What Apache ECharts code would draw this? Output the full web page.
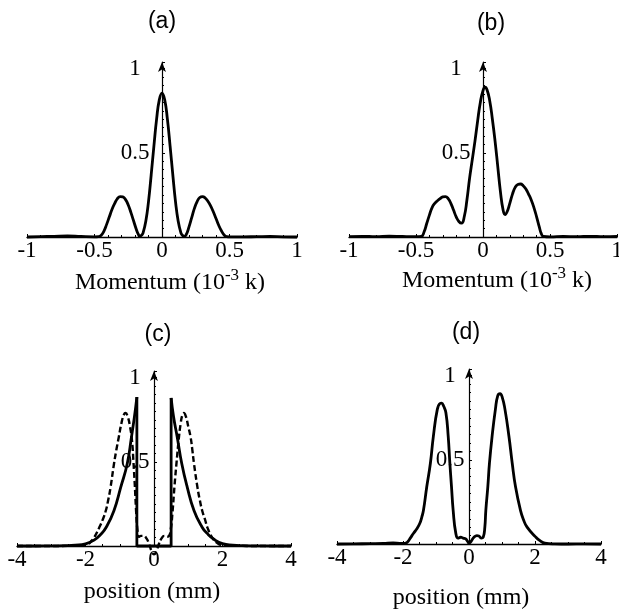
<!DOCTYPE html>
<html>
<head>
<meta charset="utf-8">
<script src="https://cdn.jsdelivr.net/npm/echarts@6/dist/echarts.min.js"></script>
<style>
html,body{margin:0;padding:0;background:#fff;}
#chart{width:619px;height:613px;}
</style>
</head>
<body>
<div id="chart"></div>
<script>
// ---------- data ----------
const panelTitles = ['(a)', '(b)', '(c)', '(d)'];
const momentumTicks = [-1, -0.5, 0, 0.5, 1];
const positionTicks = [-4, -2, 0, 2, 4];
const yTicks = [0.5, 1];

// (a) momentum distribution
const aX = [-1, -0.9, -0.8, -0.7, -0.6, -0.5, -0.47, -0.45, -0.43, -0.41, -0.39, -0.37, -0.35, -0.33, -0.31, -0.29, -0.27, -0.25, -0.23, -0.21, -0.19, -0.175, -0.165, -0.15, -0.14, -0.12, -0.10, -0.08, -0.06, -0.04, -0.02, 0, 0.02, 0.04, 0.06, 0.08, 0.10, 0.12, 0.14, 0.15, 0.165, 0.18, 0.20, 0.22, 0.24, 0.26, 0.28, 0.30, 0.32, 0.34, 0.36, 0.38, 0.40, 0.42, 0.44, 0.46, 0.48, 0.5, 0.6, 0.7, 0.8, 0.9, 1];
const aY = [0, 0.002, 0.004, 0.006, 0.003, 0.001, 0.002, 0.01, 0.035, 0.075, 0.12, 0.165, 0.2, 0.228, 0.24, 0.238, 0.222, 0.19, 0.145, 0.095, 0.045, 0.015, 0.003, 0.012, 0.025, 0.093, 0.21, 0.37, 0.54, 0.7, 0.815, 0.855, 0.815, 0.7, 0.54, 0.37, 0.21, 0.093, 0.025, 0.012, 0.003, 0.015, 0.06, 0.115, 0.17, 0.21, 0.235, 0.24, 0.232, 0.212, 0.185, 0.15, 0.11, 0.07, 0.037, 0.012, 0.002, 0.001, 0.001, 0.002, 0.003, 0.001, 0];

// (b) momentum distribution
const bX = [-1, -0.9, -0.8, -0.7, -0.6, -0.5, -0.46, -0.44, -0.42, -0.40, -0.38, -0.36, -0.34, -0.32, -0.30, -0.28, -0.26, -0.24, -0.22, -0.20, -0.18, -0.16, -0.14, -0.12, -0.10, -0.08, -0.06, -0.04, -0.02, 0, 0.015, 0.03, 0.05, 0.07, 0.09, 0.11, 0.13, 0.15, 0.165, 0.18, 0.20, 0.22, 0.24, 0.26, 0.28, 0.30, 0.32, 0.34, 0.36, 0.38, 0.40, 0.42, 0.435, 0.45, 0.5, 0.6, 0.7, 0.8, 0.9, 1];
const bY = [0.002, 0.004, 0.002, 0.005, 0.003, 0.002, 0.004, 0.03, 0.08, 0.13, 0.175, 0.2, 0.215, 0.228, 0.238, 0.24, 0.228, 0.2, 0.16, 0.12, 0.092, 0.082, 0.12, 0.22, 0.35, 0.46, 0.57, 0.69, 0.8, 0.87, 0.89, 0.875, 0.81, 0.7, 0.57, 0.42, 0.27, 0.16, 0.133, 0.15, 0.2, 0.255, 0.295, 0.312, 0.315, 0.305, 0.285, 0.255, 0.22, 0.175, 0.12, 0.06, 0.02, 0.004, 0.001, 0.003, 0.002, 0.004, 0.002, 0.003];

// (c) solid curve: left flank, central gap, right flank
const cSolidLeftX = [-4, -3.5, -3, -2.6, -2.3, -2.0, -1.75, -1.55, -1.4, -1.17, -0.97, -0.78, -0.66, -0.57, -0.5];
const cSolidLeftY = [0, 0, 0.001, 0.002, 0.005, 0.013, 0.035, 0.07, 0.11, 0.21, 0.35, 0.49, 0.645, 0.77, 0.885];
const cSolidGapX = [-0.5, -0.5, 0.5, 0.5];
const cSolidGapY = [0.885, 0, 0, 0.88];
const cSolidRightX = [0.5, 0.57, 0.68, 0.81, 0.97, 1.17, 1.41, 1.55, 1.75, 2.0, 2.3, 2.6, 3, 3.5, 4];
const cSolidRightY = [0.88, 0.77, 0.645, 0.49, 0.35, 0.21, 0.11, 0.075, 0.04, 0.014, 0.005, 0.002, 0.001, 0, 0];
// (c) dashed curve
const cDashX = [-4, -3, -2.4, -2.1, -1.95, -1.85, -1.75, -1.6, -1.5, -1.41, -1.34, -1.27, -1.17, -1.1, -1.03, -0.95, -0.88, -0.83, -0.77, -0.7, -0.64, -0.6, -0.56, -0.52, -0.48, -0.44, -0.38, -0.3, -0.22, -0.14, -0.07, 0, 0.07, 0.14, 0.22, 0.3, 0.38, 0.44, 0.49, 0.54, 0.6, 0.66, 0.72, 0.78, 0.83, 0.87, 0.93, 1.0, 1.07, 1.12, 1.17, 1.27, 1.34, 1.41, 1.5, 1.56, 1.7, 1.82, 1.95, 2.1, 2.4, 3, 4];
const cDashY = [0, 0, 0.001, 0.003, 0.008, 0.025, 0.05, 0.109, 0.155, 0.208, 0.27, 0.347, 0.486, 0.57, 0.645, 0.73, 0.78, 0.79, 0.77, 0.71, 0.62, 0.5, 0.36, 0.2, 0.09, 0.055, 0.06, 0.06, 0.045, 0.01, -0.03, -0.05, -0.03, 0.01, 0.045, 0.06, 0.055, 0.06, 0.1, 0.2, 0.36, 0.5, 0.63, 0.73, 0.78, 0.79, 0.77, 0.71, 0.645, 0.57, 0.486, 0.347, 0.27, 0.208, 0.15, 0.109, 0.05, 0.022, 0.006, 0.002, 0.001, 0, 0];

// (d) position distribution
const dX = [-4, -3.5, -3, -2.6, -2.3, -2.1, -1.95, -1.87, -1.78, -1.68, -1.58, -1.49, -1.43, -1.38, -1.28, -1.17, -1.08, -0.96, -0.88, -0.83, -0.77, -0.7, -0.63, -0.58, -0.53, -0.48, -0.4, -0.33, -0.25, -0.18, -0.1, -0.04, 0, 0.06, 0.15, 0.24, 0.3, 0.37, 0.43, 0.48, 0.51, 0.57, 0.62, 0.7, 0.8, 0.87, 0.94, 1.01, 1.09, 1.21, 1.31, 1.41, 1.56, 1.66, 1.76, 2.01, 2.15, 2.3, 2.6, 3, 3.5, 4];
const dY = [0, 0.001, 0.002, 0.003, 0.006, 0.004, 0.003, 0.01, 0.035, 0.064, 0.09, 0.123, 0.16, 0.2, 0.34, 0.48, 0.64, 0.8, 0.835, 0.837, 0.82, 0.78, 0.64, 0.48, 0.34, 0.2, 0.064, 0.035, 0.04, 0.035, 0.03, 0.015, 0.005, 0.015, 0.04, 0.05, 0.048, 0.035, 0.04, 0.1, 0.2, 0.34, 0.48, 0.64, 0.8, 0.88, 0.893, 0.87, 0.8, 0.64, 0.48, 0.34, 0.2, 0.14, 0.1, 0.044, 0.02, 0.005, 0.001, 0, 0.001, 0];

// ---------- build ----------
const pairs = (xs, ys) => xs.map((x, i) => [x, ys[i]]);
const SERIF = 'Liberation Serif';
const SANS = 'Liberation Sans';

const panels = [
  { grid: { left: 27, top: 62, width: 270, height: 175 }, ticks: momentumTicks, minor: 5, yMargin: 27, title: [162, 22], name: [170, 281] },
  { grid: { left: 349, top: 62, width: 268, height: 175 }, ticks: momentumTicks, minor: 5, yMargin: 27, title: [491, 24], name: [497, 279] },
  { grid: { left: 17, top: 371, width: 274, height: 175 }, ticks: positionTicks, minor: 4, yMargin: 19, title: [158, 335], name: [152, 590] },
  { grid: { left: 337, top: 369, width: 264, height: 175 }, ticks: positionTicks, minor: 4, yMargin: 19, title: [466, 333], name: [461, 596] }
];
const axisNames = [
  '{n|Momentum (10}{s|-3}{n| k)}',
  '{n|Momentum (10}{s|-3}{n| k)}',
  '{n|position (mm)}',
  '{n|position (mm)}'
];

const grids = [], xAxes = [], yAxes = [], graphics = [];
panels.forEach((p, i) => {
  grids.push(Object.assign({ containLabel: false, outerBoundsMode: 'none' }, p.grid));
  const t = p.ticks;
  xAxes.push({
    type: 'value', gridIndex: i, min: t[0], max: t[t.length - 1], interval: t[1] - t[0],
    axisLine: { show: true, onZero: false, lineStyle: { color: '#000', width: 1.3 } },
    axisTick: { show: true, inside: true, length: 3, lineStyle: { color: '#000', width: 1 } },
    minorTick: { show: true, splitNumber: p.minor, length: 2, lineStyle: { color: '#000', width: 1 } },
    splitLine: { show: false },
    axisLabel: { color: '#000', fontFamily: SERIF, fontSize: 23, margin: 2, formatter: v => String(v) }
  });
  yAxes.push({
    type: 'value', gridIndex: i, min: 0, max: 1.04, interval: 0.5,
    position: 'left',
    offset: -p.grid.width / 2,   // puts the vertical axis at x = 0 (symmetric x range)
    axisLine: { show: true, onZero: false, symbol: ['none', 'arrow'], symbolSize: [6, 10], lineStyle: { color: '#000', width: 1.2 } },
    axisTick: { show: true, inside: true, length: 3, lineStyle: { color: '#000', width: 1 } },
    minorTick: { show: true, splitNumber: 10, length: 2, lineStyle: { color: '#000', width: 1 } },
    splitLine: { show: false },
    axisLabel: {
      color: '#000', fontFamily: SERIF, fontSize: 23, margin: p.yMargin, align: 'center',
      showMaxLabel: false, showMinLabel: false,
      formatter: v => (yTicks.indexOf(v) >= 0 ? String(v) : '')
    }
  });
  graphics.push({
    type: 'text', x: p.title[0], y: p.title[1],
    style: { text: panelTitles[i], font: '23px ' + SANS, fill: '#000', align: 'center', verticalAlign: 'middle' }
  });
  graphics.push({
    type: 'text', x: p.name[0], y: p.name[1],
    style: {
      text: axisNames[i], fill: '#000', align: 'center', verticalAlign: 'middle',
      rich: {
        n: { fontFamily: SERIF, fontSize: 24, fill: '#000', lineHeight: 28, verticalAlign: 'bottom' },
        s: { fontFamily: SERIF, fontSize: 17, fill: '#000', lineHeight: 28, verticalAlign: 'top' }
      }
    }
  });
});

const lineBase = (xi, data, extra) => Object.assign({
  type: 'line', xAxisIndex: xi, yAxisIndex: xi, data: data,
  showSymbol: false, symbol: 'none', smooth: 0.5, clip: false,
  lineStyle: { color: '#000', width: 2.8 }, animation: false, silent: true
}, extra || {});

const series = [
  lineBase(0, pairs(aX, aY)),
  lineBase(1, pairs(bX, bY)),
  lineBase(2, pairs(cSolidLeftX, cSolidLeftY)),
  lineBase(2, pairs(cSolidGapX, cSolidGapY), { smooth: false }),
  lineBase(2, pairs(cSolidRightX, cSolidRightY)),
  lineBase(2, pairs(cDashX, cDashY), { lineStyle: { color: '#000', width: 2.4, type: [6, 3] } }),
  lineBase(3, pairs(dX, dY))
];

const chart = echarts.init(document.getElementById('chart'), null, { renderer: 'canvas' });
chart.setOption({
  backgroundColor: '#fff',
  animation: false,
  grid: grids, xAxis: xAxes, yAxis: yAxes,
  series: series,
  graphic: graphics
});
</script>
</body>
</html>
